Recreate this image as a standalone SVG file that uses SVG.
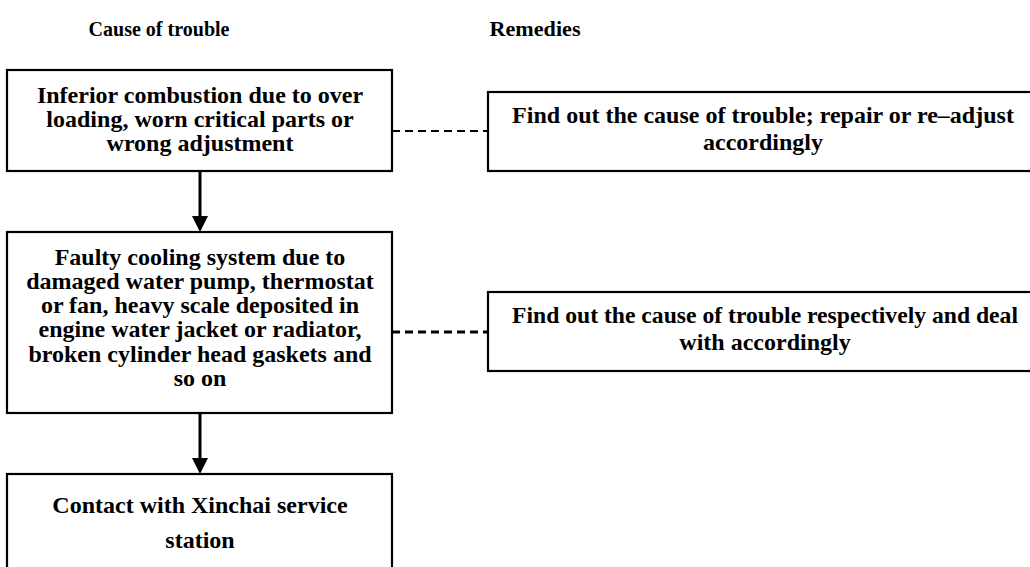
<svg xmlns="http://www.w3.org/2000/svg" width="1030" height="567" viewBox="0 0 1030 567">
<defs>
<style>
text{font-family:"Liberation Serif","Times New Roman",serif;font-weight:bold;fill:#000;text-anchor:middle}
.h{font-size:22px}
.t{font-size:24px}
.box{fill:#fff;stroke:#000;stroke-width:2.2}
.dash{stroke:#000;stroke-width:2.2;stroke-dasharray:8,5;fill:none}
.dash2{stroke:#000;stroke-width:3;stroke-dasharray:8,5;fill:none}
.arr{stroke:#000;stroke-width:3;fill:none}
</style>
</defs>
<g id="headers">
<text class="h" x="159" y="36" textLength="141" lengthAdjust="spacingAndGlyphs">Cause of trouble</text>
<text class="h" x="535" y="36" textLength="91" lengthAdjust="spacingAndGlyphs">Remedies</text>
</g>
<g id="connectors">
<line class="arr" x1="200" y1="171" x2="200" y2="217"/>
<path d="M192,216 L208,216 L200,232 Z" fill="#000"/>
<line class="arr" x1="200" y1="413" x2="200" y2="459"/>
<path d="M192,458 L208,458 L200,474 Z" fill="#000"/>
<line class="dash" x1="392" y1="131" x2="488" y2="131"/>
<line class="dash2" x1="392" y1="332" x2="488" y2="332"/>
</g>
<g id="cause1">
<rect class="box" x="7" y="70" width="385" height="101"/>
<text class="t" x="200" y="103">Inferior combustion due to over</text>
<text class="t" x="200" y="127">loading, worn critical parts or</text>
<text class="t" x="200" y="151">wrong adjustment</text>
</g>
<g id="remedy1">
<rect class="box" x="488" y="92" width="560" height="79"/>
<text class="t" x="763" y="123">Find out the cause of trouble; repair or re–adjust</text>
<text class="t" x="763" y="150">accordingly</text>
</g>
<g id="cause2">
<rect class="box" x="7" y="232" width="385" height="181"/>
<text class="t" x="200" y="265">Faulty cooling system due to</text>
<text class="t" x="200" y="289">damaged water pump, thermostat</text>
<text class="t" x="200" y="313">or fan, heavy scale deposited in</text>
<text class="t" x="200" y="337">engine water jacket or radiator,</text>
<text class="t" x="200" y="362">broken cylinder head gaskets and</text>
<text class="t" x="200" y="386">so on</text>
</g>
<g id="remedy2">
<rect class="box" x="488" y="292" width="560" height="79"/>
<text class="t" x="765" y="323" textLength="506" lengthAdjust="spacingAndGlyphs">Find out the cause of trouble respectively and deal</text>
<text class="t" x="765" y="350">with accordingly</text>
</g>
<g id="cause3">
<rect class="box" x="7" y="474" width="385" height="110"/>
<text class="t" x="200" y="513">Contact with Xinchai service</text>
<text class="t" x="200" y="548">station</text>
</g>
</svg>
